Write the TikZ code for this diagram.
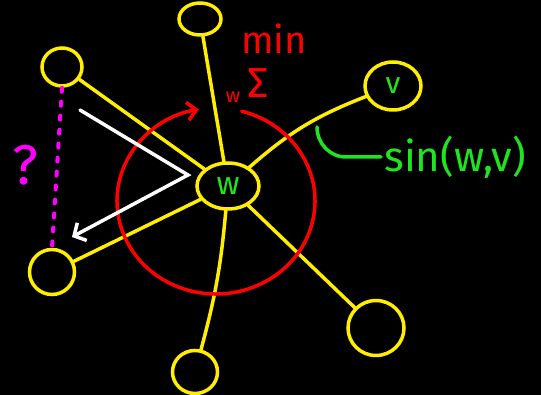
\documentclass[tikz,border=0pt]{standalone}
\usepackage{fontspec}
\setmainfont{Fira Sans}
\usetikzlibrary{arrows.meta, shapes.geometric, calc}
\definecolor{hYellow}{RGB}{255,238,0}
\definecolor{hRed}{RGB}{255,0,0}
\definecolor{hGreen}{RGB}{30,230,30}
\definecolor{hMagenta}{RGB}{255,0,255}

\begin{document}
\begin{tikzpicture}[
  x=1pt, y=1pt,
  vert/.style={draw=hYellow, ellipse, line width=3.5pt, inner sep=0pt},
  edge/.style={draw=hYellow, line width=3.5pt, line cap=round},
  loopline/.style={draw=hRed, line width=3.5pt, line cap=round,
                   -{Straight Barb[length=9pt, width=18pt, line width=3.5pt]}},
  pointer/.style={draw=white, line width=3.5pt, line cap=round, line join=miter,
                  -{Straight Barb[length=9pt, width=20pt, line width=3.5pt]}},
  dots/.style={draw=hMagenta, line width=4pt, line cap=round,
               dash pattern=on 4pt off 10pt},
  simline/.style={draw=hGreen, line width=3.5pt, line cap=round}
]

%% background
\fill[black] (0,0) rectangle (541,395);
\useasboundingbox (0,0) rectangle (541,395);

%% vertices
\node[vert, minimum width=62pt, minimum height=46pt, text=hGreen,
      font=\fontsize{32}{32}\selectfont] (w) at (228,209) {w};
\node[vert, minimum width=42pt, minimum height=32pt] (top) at (200,376) {};
\node[vert, minimum width=56pt, minimum height=48pt, text=hGreen,
      font=\fontsize{30}{30}\selectfont] (v) at (393,309) {v};
\node[vert, minimum width=40pt, minimum height=38pt] (tl) at (62,328) {};
\node[vert, minimum width=45pt, minimum height=45pt] (bl) at (52,123) {};
\node[vert, minimum width=45pt, minimum height=43pt] (bot) at (195,23) {};
\node[vert, minimum width=56pt, minimum height=55pt] (br) at (376,67) {};

%% edges
\draw[edge] (w) -- (top);
\draw[edge] (w) to[bend left=10] (v);
\draw[edge] (w) -- (tl);
\draw[edge] (w) -- (bl);
\draw[edge] (w) to[bend left=5] (bot);
\draw[edge] (w) -- (br);

%% red sum loop
\coordinate (loop) at (216,194);
\draw[loopline] ($(loop)+(75:99pt and 93pt)$)
  arc[start angle=75, end angle=-260, x radius=99pt, y radius=93pt];
\node[text=hRed, font=\fontsize{38}{38}\selectfont] (min) at (274,356) {min};
\node[text=hRed, font=\fontsize{42}{42}\selectfont] (sum) at (258,312) {Σ};
\node[text=hRed, font=\fontsize{20}{20}\selectfont] (sub) at (233,298) {w};

%% white arrow
\coordinate (wa) at (80,285);
\coordinate (wb) at (188,220);
\coordinate (wc) at (72,158);
\draw[pointer] (wa) -- (wb) -- (wc);

%% magenta question
\draw[dots] (tl.south) -- (bl.north);
\node[text=hMagenta, font=\fontsize{56}{56}\selectfont] (quest) at (25,230) {?};

%% similarity label
\node[text=hGreen, anchor=west, font=\fontsize{42}{42}\selectfont]
  (sim) at (381,238) {sin(w,v)};
\coordinate (simtip) at (317,268);
\draw[simline] (sim.west) -- ++(-35,0) to[out=180, in=-90] (simtip);

\end{tikzpicture}
\end{document}
